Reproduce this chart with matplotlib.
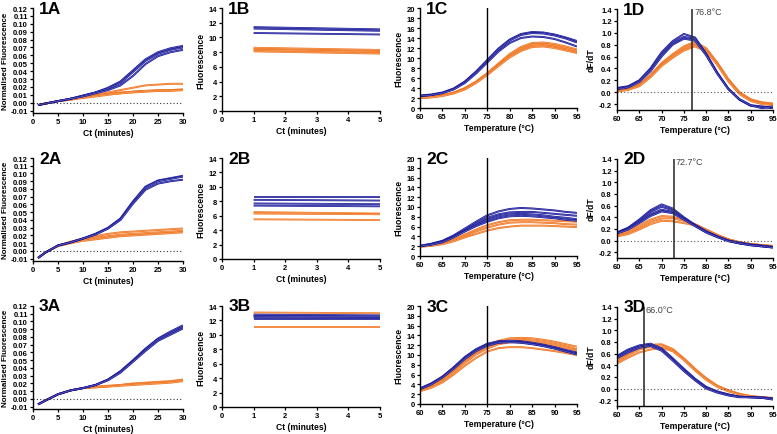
import matplotlib
matplotlib.use("Agg")
import matplotlib.pyplot as plt

plt.rcParams['font.family'] = ['Liberation Sans', 'DejaVu Sans']

BLUE = '#17179a'
ORANGE = '#f0751f'

## x values
ct_x = [1, 2.5, 5, 7.5, 10, 12.5, 15, 17.5, 20, 22.5, 25, 27.5, 30]
b_x = [1, 5]
temp_x = [60, 62.5, 65, 67.5, 70, 72.5, 75, 77.5, 80, 82.5, 85, 87.5, 90, 92.5, 95]

## row 1
p1a_blue = [
    [-0.003, -0.001, 0.002, 0.005, 0.009, 0.013, 0.019, 0.027, 0.041, 0.055, 0.064, 0.069, 0.072],
    [-0.003, -0.001, 0.002, 0.005, 0.009, 0.013, 0.018, 0.025, 0.039, 0.053, 0.062, 0.067, 0.070],
    [-0.003, -0.001, 0.002, 0.005, 0.008, 0.012, 0.016, 0.022, 0.034, 0.049, 0.059, 0.064, 0.067],
]
p1a_orange = [
    [-0.003, -0.001, 0.002, 0.005, 0.008, 0.010, 0.013, 0.016, 0.019, 0.022, 0.023, 0.024, 0.024],
    [-0.003, -0.001, 0.002, 0.004, 0.007, 0.009, 0.011, 0.013, 0.014, 0.015, 0.016, 0.016, 0.017],
    [-0.003, -0.001, 0.002, 0.004, 0.007, 0.009, 0.011, 0.012, 0.014, 0.015, 0.015, 0.016, 0.016],
    [-0.003, -0.001, 0.002, 0.004, 0.006, 0.008, 0.010, 0.012, 0.013, 0.014, 0.015, 0.015, 0.016],
]
p1b_blue = [[11.4, 11.1], [11.2, 10.9], [10.6, 10.4]]
p1b_orange = [[8.6, 8.3], [8.4, 8.1], [8.3, 8.0], [8.1, 7.8]]
p1c_blue = [
    [2.5, 2.7, 3.1, 3.9, 5.3, 7.3, 9.6, 11.9, 13.7, 14.8, 15.2, 15.1, 14.7, 14.1, 13.4],
    [2.4, 2.6, 3.0, 3.8, 5.2, 7.2, 9.4, 11.7, 13.5, 14.6, 15.0, 14.9, 14.5, 13.9, 13.1],
    [2.4, 2.6, 3.0, 3.7, 5.0, 6.9, 9.1, 11.3, 13.0, 14.0, 14.3, 14.2, 13.8, 13.1, 12.3],
]
p1c_orange = [
    [2.2, 2.3, 2.6, 3.1, 4.0, 5.3, 7.0, 8.9, 10.8, 12.2, 13.0, 13.1, 12.8, 12.3, 11.7],
    [2.1, 2.2, 2.5, 3.0, 3.9, 5.2, 6.8, 8.7, 10.5, 11.9, 12.7, 12.8, 12.5, 12.0, 11.4],
    [2.1, 2.2, 2.5, 3.0, 3.8, 5.1, 6.7, 8.5, 10.3, 11.6, 12.4, 12.5, 12.2, 11.7, 11.1],
    [2.0, 2.1, 2.4, 2.9, 3.7, 5.0, 6.6, 8.4, 10.1, 11.4, 12.2, 12.3, 12.0, 11.5, 11.0],
]
p1d_blue = [
    [0.07, 0.10, 0.20, 0.40, 0.67, 0.86, 0.98, 0.92, 0.65, 0.33, 0.06, -0.12, -0.22, -0.24, -0.26],
    [0.06, 0.09, 0.19, 0.38, 0.64, 0.83, 0.93, 0.90, 0.64, 0.32, 0.05, -0.13, -0.23, -0.25, -0.27],
    [0.05, 0.08, 0.17, 0.35, 0.60, 0.80, 0.90, 0.87, 0.62, 0.31, 0.05, -0.12, -0.22, -0.27, -0.24],
]
p1d_orange = [
    [0.03, 0.06, 0.13, 0.29, 0.49, 0.64, 0.77, 0.85, 0.74, 0.50, 0.22, 0.00, -0.12, -0.17, -0.19],
    [0.02, 0.05, 0.12, 0.27, 0.47, 0.62, 0.75, 0.82, 0.72, 0.48, 0.20, -0.02, -0.13, -0.18, -0.20],
    [0.02, 0.04, 0.11, 0.26, 0.45, 0.60, 0.72, 0.79, 0.70, 0.47, 0.19, -0.03, -0.14, -0.19, -0.21],
    [0.01, 0.04, 0.10, 0.25, 0.44, 0.58, 0.70, 0.77, 0.69, 0.46, 0.18, -0.03, -0.15, -0.20, -0.22],
]

## row 2
p2a_blue = [
    [-0.009, -0.002, 0.007, 0.011, 0.016, 0.022, 0.030, 0.042, 0.064, 0.083, 0.091, 0.094, 0.097],
    [-0.009, -0.002, 0.007, 0.011, 0.016, 0.022, 0.029, 0.041, 0.063, 0.082, 0.090, 0.093, 0.096],
    [-0.009, -0.002, 0.007, 0.011, 0.016, 0.021, 0.029, 0.040, 0.061, 0.079, 0.087, 0.090, 0.092],
]
p2a_orange = [
    [-0.009, -0.002, 0.007, 0.012, 0.016, 0.019, 0.022, 0.024, 0.025, 0.026, 0.027, 0.028, 0.029],
    [-0.009, -0.002, 0.007, 0.011, 0.014, 0.017, 0.019, 0.021, 0.022, 0.023, 0.024, 0.025, 0.026],
    [-0.009, -0.002, 0.006, 0.010, 0.013, 0.015, 0.017, 0.019, 0.020, 0.021, 0.022, 0.023, 0.024],
]
p2b_blue = [[8.6, 8.6], [8.2, 8.1], [7.7, 7.6], [7.4, 7.3]]
p2b_orange = [[6.5, 6.3], [6.3, 6.2], [5.5, 5.4]]
p2c_blue = [
    [2.1, 2.5, 3.1, 4.2, 5.6, 7.0, 8.3, 9.1, 9.6, 9.8, 9.7, 9.5, 9.3, 9.0, 8.8],
    [2.0, 2.4, 3.0, 4.0, 5.3, 6.6, 7.8, 8.5, 8.9, 9.0, 9.0, 8.8, 8.6, 8.4, 8.2],
    [2.0, 2.4, 2.9, 3.9, 5.1, 6.3, 7.4, 8.1, 8.5, 8.6, 8.5, 8.3, 8.0, 7.8, 7.5],
    [2.0, 2.3, 2.8, 3.8, 5.0, 6.1, 7.0, 7.7, 8.1, 8.2, 8.1, 7.9, 7.7, 7.4, 7.2],
]
p2c_orange = [
    [2.0, 2.2, 2.6, 3.4, 4.4, 5.4, 6.3, 6.9, 7.3, 7.4, 7.4, 7.3, 7.2, 7.1, 7.0],
    [1.9, 2.1, 2.5, 3.2, 4.1, 5.0, 5.8, 6.4, 6.8, 6.9, 6.9, 6.8, 6.7, 6.5, 6.4],
    [1.9, 2.1, 2.4, 3.0, 3.8, 4.5, 5.2, 5.7, 6.0, 6.2, 6.2, 6.2, 6.1, 6.0, 5.9],
]
p2d_blue = [
    [0.14, 0.22, 0.36, 0.52, 0.62, 0.55, 0.40, 0.27, 0.16, 0.07, 0.00, -0.04, -0.07, -0.09, -0.11],
    [0.13, 0.21, 0.34, 0.49, 0.58, 0.52, 0.38, 0.26, 0.15, 0.07, 0.00, -0.04, -0.07, -0.09, -0.11],
    [0.13, 0.20, 0.32, 0.45, 0.53, 0.49, 0.37, 0.25, 0.14, 0.06, -0.01, -0.05, -0.08, -0.10, -0.12],
    [0.12, 0.19, 0.30, 0.42, 0.50, 0.47, 0.36, 0.25, 0.14, 0.06, -0.01, -0.05, -0.08, -0.10, -0.12],
]
p2d_orange = [
    [0.10, 0.16, 0.26, 0.36, 0.42, 0.41, 0.35, 0.28, 0.19, 0.10, 0.02, -0.03, -0.06, -0.08, -0.10],
    [0.08, 0.13, 0.22, 0.32, 0.38, 0.38, 0.34, 0.28, 0.18, 0.09, 0.02, -0.03, -0.06, -0.08, -0.10],
    [0.07, 0.11, 0.19, 0.28, 0.34, 0.33, 0.30, 0.26, 0.18, 0.09, 0.02, -0.03, -0.06, -0.08, -0.09],
]

## row 3
p3a_blue = [
    [-0.007, -0.002, 0.006, 0.011, 0.014, 0.018, 0.025, 0.036, 0.050, 0.065, 0.078, 0.087, 0.095],
    [-0.007, -0.002, 0.006, 0.011, 0.014, 0.018, 0.025, 0.035, 0.049, 0.064, 0.077, 0.085, 0.093],
    [-0.007, -0.002, 0.006, 0.011, 0.014, 0.018, 0.024, 0.034, 0.048, 0.062, 0.075, 0.083, 0.091],
]
p3a_orange = [
    [-0.007, -0.002, 0.006, 0.011, 0.014, 0.016, 0.017, 0.018, 0.020, 0.021, 0.022, 0.023, 0.025],
    [-0.007, -0.002, 0.006, 0.011, 0.014, 0.015, 0.016, 0.018, 0.019, 0.020, 0.021, 0.022, 0.024],
    [-0.007, -0.002, 0.006, 0.011, 0.014, 0.015, 0.016, 0.017, 0.018, 0.019, 0.020, 0.021, 0.023],
]
p3b_blue = [[12.8, 12.7], [12.6, 12.5], [12.4, 12.3], [12.2, 12.2]]
p3b_orange = [[13.1, 13.0], [11.1, 11.1]]
p3c_blue = [
    [3.2, 4.2, 5.6, 7.5, 9.6, 11.2, 12.3, 12.8, 12.9, 12.8, 12.5, 12.1, 11.6, 11.0, 10.5],
    [3.1, 4.1, 5.5, 7.3, 9.4, 11.0, 12.1, 12.6, 12.7, 12.6, 12.3, 11.9, 11.4, 10.8, 10.3],
    [3.0, 4.0, 5.4, 7.2, 9.2, 10.8, 11.9, 12.5, 12.6, 12.5, 12.2, 11.8, 11.3, 10.7, 10.1],
]
p3c_orange = [
    [2.8, 3.7, 5.0, 6.8, 8.8, 10.6, 11.9, 12.9, 13.4, 13.5, 13.4, 13.1, 12.7, 12.2, 11.7],
    [2.7, 3.6, 4.9, 6.6, 8.6, 10.4, 11.7, 12.6, 13.0, 13.1, 13.0, 12.7, 12.3, 11.8, 11.2],
    [2.7, 3.5, 4.8, 6.5, 8.4, 10.1, 11.3, 12.2, 12.6, 12.7, 12.6, 12.3, 11.9, 11.4, 10.9],
    [2.6, 3.3, 4.4, 6.0, 7.8, 9.4, 10.7, 11.4, 11.6, 11.6, 11.4, 11.1, 10.8, 10.4, 10.0],
]
p3d_blue = [
    [0.56, 0.67, 0.74, 0.77, 0.69, 0.52, 0.34, 0.17, 0.03, -0.05, -0.10, -0.14, -0.15, -0.15, -0.17],
    [0.54, 0.65, 0.72, 0.75, 0.67, 0.50, 0.32, 0.15, 0.01, -0.06, -0.11, -0.14, -0.15, -0.16, -0.18],
    [0.52, 0.62, 0.70, 0.73, 0.65, 0.48, 0.30, 0.14, 0.00, -0.07, -0.12, -0.15, -0.15, -0.16, -0.19],
]
p3d_orange = [
    [0.48, 0.60, 0.70, 0.75, 0.76, 0.68, 0.52, 0.34, 0.18, 0.05, -0.03, -0.09, -0.13, -0.15, -0.16],
    [0.46, 0.57, 0.67, 0.72, 0.74, 0.66, 0.50, 0.32, 0.16, 0.04, -0.04, -0.10, -0.13, -0.15, -0.17],
    [0.43, 0.53, 0.62, 0.67, 0.70, 0.64, 0.49, 0.31, 0.15, 0.03, -0.05, -0.10, -0.14, -0.16, -0.17],
]

melt_temps = [76.8, 72.7, 66.0]
row_names = ['1', '2', '3']

fig = plt.figure(figsize=(7.77, 4.35), dpi=100)
W, H = 777.0, 435.0
LAB = 6.2   # axis label size
TICK = 5.5  # tick label size

def make_ax(left, top, right, bottom):
    return fig.add_axes([left / W, 1 - bottom / H, (right - left) / W, (bottom - top) / H])

def style(ax, label):
    for s in ['top', 'right']:
        ax.spines[s].set_visible(False)
    for s in ['left', 'bottom']:
        ax.spines[s].set_linewidth(1.0)
    ax.tick_params(direction='out', length=2.5, width=0.9, labelsize=TICK, pad=1.2)
    for t in ax.get_xticklabels() + ax.get_yticklabels():
        t.set_fontweight('bold')
    ax.text(0.04, 1.0, label, transform=ax.transAxes, fontsize=12.5, fontweight='bold',
            va='center', ha='left')

def curves(ax, x, blues, oranges, lw=1.4):
    for y in oranges:
        ax.plot(x, y, color=ORANGE, lw=lw, solid_capstyle='butt')
        ax.plot(x, y, color='white', lw=0.25, alpha=0.6)
    for y in blues:
        ax.plot(x, y, color=BLUE, lw=lw, solid_capstyle='butt')
        ax.plot(x, y, color='white', lw=0.25, alpha=0.6)

rows = [
    (p1a_blue, p1a_orange, p1b_blue, p1b_orange, p1c_blue, p1c_orange, p1d_blue, p1d_orange),
    (p2a_blue, p2a_orange, p2b_blue, p2b_orange, p2c_blue, p2c_orange, p2d_blue, p2d_orange),
    (p3a_blue, p3a_orange, p3b_blue, p3b_orange, p3c_blue, p3c_orange, p3d_blue, p3d_orange),
]
tops = [9, 159, 307]
bots = [114, 262, 410]

for r in range(3):
    ab, ao, bb, bo, cb, co, db, do = rows[r]
    top, bot = tops[r], bots[r]
    name = row_names[r]

    # A
    ax = make_ax(33, top, 183, bot)
    curves(ax, ct_x, ab, ao)
    ax.axhline(0, color='#333333', lw=0.8, ls=(0, (1, 2)))
    ax.set_xlim(0, 30)
    ax.set_ylim(-0.013, 0.12)
    ax.set_xticks(range(0, 31, 5))
    ax.set_yticks([i / 100 for i in range(-1, 13)])
    ax.set_yticklabels(['%.2f' % (i / 100) for i in range(-1, 13)])
    ax.set_xlabel('Ct (minutes)', fontsize=LAB, fontweight='bold', labelpad=2)
    ax.set_ylabel('Normalised Fluorescence', fontsize=5.8, fontweight='bold', labelpad=1)
    style(ax, name + 'A')

    # B
    ax = make_ax(222, top, 380, bot - 2)
    curves(ax, b_x, bb, bo, lw=1.3)
    ax.set_xlim(0, 5)
    ax.set_ylim(0, 14)
    ax.set_xticks(range(0, 6))
    ax.set_yticks(range(0, 15, 2))
    ax.set_xlabel('Ct (minutes)', fontsize=LAB, fontweight='bold', labelpad=2)
    ax.set_ylabel('Fluorescence', fontsize=LAB, fontweight='bold', labelpad=2)
    style(ax, name + 'B')

    # C
    ax = make_ax(420, top, 577, bot - 5)
    curves(ax, temp_x, cb, co)
    ax.axvline(75, color='black', lw=1.0)
    ax.set_xlim(60, 95)
    ax.set_ylim(0, 20)
    ax.set_xticks(range(60, 96, 5))
    ax.set_yticks(range(0, 21, 2))
    ax.set_xlabel('Temperature (°C)', fontsize=LAB, fontweight='bold', labelpad=2)
    ax.set_ylabel('Fluorescence', fontsize=LAB, fontweight='bold', labelpad=2)
    style(ax, name + 'C')

    # D
    ax = make_ax(617, top + 1, 773, bot - 3)
    curves(ax, temp_x, db, do)
    ax.axhline(0, color='#555555', lw=0.8, ls=(0, (1, 2)))
    ax.axvline(melt_temps[r], color='#333333', lw=1.2)
    ax.text(melt_temps[r] + 0.5, 1.35, '%.1f°C' % melt_temps[r], fontsize=6.5, color='#444444',
            va='center', ha='left')
    ax.set_xlim(60, 95)
    ax.set_ylim(-0.3, 1.4)
    ax.set_xticks(range(60, 96, 5))
    ax.set_yticks([i / 10 for i in range(-2, 15, 2)])
    ax.set_yticklabels(['%.1f' % (i / 10) for i in range(-2, 15, 2)])
    ax.set_xlabel('Temperature (°C)', fontsize=LAB, fontweight='bold', labelpad=2)
    ax.set_ylabel('dF/dT', fontsize=LAB, fontweight='bold', labelpad=2)
    style(ax, name + 'D')

fig.savefig('out.png', dpi=100)
